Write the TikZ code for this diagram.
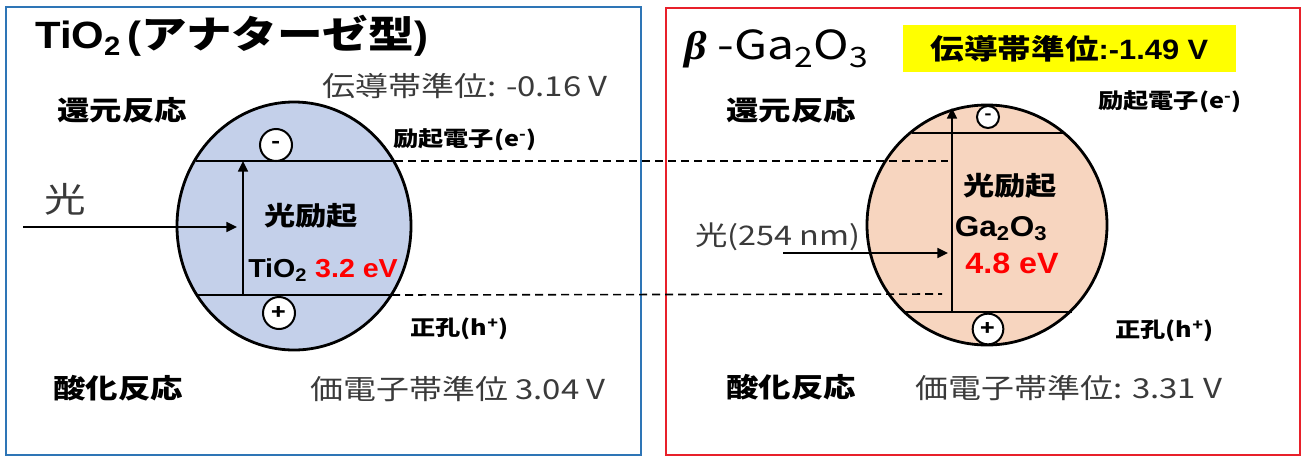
\documentclass[tikz,border=0pt]{standalone}
\usepackage{fontspec}
\setmainfont{Noto Sans CJK JP}[FakeStretch=1.2]
\newfontfamily\grk{Liberation Serif}[FakeStretch=1.1]
\newfontfamily\lat{Liberation Sans}[FakeStretch=1.1]
\usetikzlibrary{shapes.geometric,arrows.meta}
\definecolor{boxblue}{HTML}{2E75B6}
\definecolor{boxred}{HTML}{E8202A}
\definecolor{fillblue}{HTML}{C4D0EA}
\definecolor{fillpeach}{HTML}{F7D5BF}
\definecolor{textgray}{HTML}{3A3A3A}
\definecolor{hlyellow}{HTML}{FFFF00}
\definecolor{evred}{HTML}{FF0000}
\tikzset{
  lbl/.style={inner sep=0pt, anchor=base west},
  lblc/.style={inner sep=0pt, anchor=base},
  titlefont/.style={font=\bfseries\fontsize{28.5}{32}\selectfont},
  levelfont/.style={font=\fontsize{20.6}{24}\selectfont, text=textgray},
  reactfont/.style={font=\bfseries\fontsize{20.25}{24}\selectfont},
  carrierfont/.style={font=\bfseries\fontsize{15.75}{18}\selectfont},
  innerfont/.style={font=\bfseries\fontsize{19.5}{22}\selectfont},
  bandellipse/.style={ellipse, draw, line width=2.1pt, inner sep=0pt},
  bandline/.style={line width=1.6pt},
  bridge/.style={line width=1.2pt, dash pattern=on 6pt off 3.75pt},
  excite/.style={line width=1.2pt, -{Triangle[length=8pt,width=7.5pt]}},
  chargebox/.style={circle, draw, fill=white, line width=1.5pt, inner sep=0pt,
     font=\bfseries\fontsize{15}{15}\selectfont},
}
\begin{document}
\begin{tikzpicture}[x=0.75pt,y=-0.75pt]
\useasboundingbox (0,0) rectangle (1306,457);
% frames
\draw[boxblue, line width=2.2pt] (6,7) rectangle (641,455);
\draw[boxred, line width=2.2pt] (666,8) rectangle (1300,455);

% ---------------- left: TiO2 ----------------
\node[bandellipse, fill=fillblue, minimum width=175.5pt, minimum height=186pt] (eL) at (294,226) {};
\coordinate (LtA) at (196,161);
\coordinate (LtB) at (395,161);
\coordinate (LbA) at (196,295);
\coordinate (LbB) at (392,295);
\draw[bandline] (LtA) -- (LtB);
\draw[bandline] (LbA) -- (LbB);
\coordinate (LvB) at (243,295);
\coordinate (LvT) at (243,161);
\draw[excite] (LvB) -- (LvT);
\coordinate (LlightS) at (23,227);
\coordinate (LlightE) at (237,227);
\draw[excite] (LlightS) -- (LlightE);
\node[chargebox, minimum size=24pt] (eminusL) at (276,145) {-};
\node[chargebox, minimum size=24pt] (hplusL) at (279,313) {+};

\node[lbl, titlefont] (titleL) at (35,48) {{\lat TiO\textsubscript{2}\,(}アナターゼ型{\lat )}};
\node[lbl, levelfont] (cbL) at (322,96) {伝導帯準位: -0.16 V};
\node[lbl, reactfont] (redL) at (57,120) {還元反応};
\node[lbl, carrierfont] (elecL) at (393,146) {励起電子(e\textsuperscript{-})};
\node[lbl, font=\fontsize{26}{28}\selectfont, text=textgray] (lightL) at (44,212) {光};
\node[lblc, innerfont] (excL) at (311,225) {光励起};
\node[lbl, font=\bfseries\fontsize{19.5}{22}\selectfont\lat] (gapL) at (248,277) {TiO\textsubscript{2} \textcolor{evred}{3.2 eV}};
\node[lbl, carrierfont] (holeL) at (410,335) {正孔(h\textsuperscript{+})};
\node[lbl, reactfont] (oxL) at (53,398) {酸化反応};
\node[lbl, levelfont] (vbL) at (310,399) {価電子帯準位 3.04 V};

% ---------------- right: Ga2O3 ----------------
\node[bandellipse, fill=fillpeach, minimum width=180pt, minimum height=180pt] (eR) at (987,225) {};
\coordinate (RtA) at (912,133);
\coordinate (RtB) at (1063,133);
\coordinate (RbA) at (903,312);
\coordinate (RbB) at (1072,312);
\draw[bandline] (RtA) -- (RtB);
\draw[bandline] (RbA) -- (RbB);
\coordinate (RvB) at (952,312);
\coordinate (RvT) at (952,108);
\draw[excite] (RvB) -- (RvT);
\coordinate (RlightS) at (783,253);
\coordinate (RlightE) at (948,253);
\draw[excite] (RlightS) -- (RlightE);
\node[chargebox, minimum size=16.5pt, font=\bfseries\fontsize{12}{12}\selectfont] (eminusR) at (988,117) {-};
\node[chargebox, minimum size=23pt] (hplusR) at (988,329) {+};

% dashed bridges between the two band diagrams
\coordinate (DtE) at (948,161);
\coordinate (DbE) at (942,294);
\draw[bridge] (LtB) -- (DtE);
\draw[bridge] (LbB) -- (DbE);

\node[lbl, font=\fontsize{30}{34}\selectfont] (titleR) at (684,59)
  {{\grk\bfseries\itshape β} -Ga\textsubscript{2}O\textsubscript{3}};
\node[fill=hlyellow, minimum width=249.75pt, minimum height=35.25pt, inner sep=0pt,
      font=\bfseries\fontsize{21}{24}\selectfont] (cbR) at (1069.5,48.5) {伝導帯準位{\lat :-1.49 V}};
\node[lbl, reactfont] (redR) at (726,120) {還元反応};
\node[lbl, carrierfont] (elecR) at (1098,108) {励起電子(e\textsuperscript{-})};
\node[lblc, innerfont] (excR) at (1010,195) {光励起};
\node[lblc, font=\bfseries\fontsize{21.5}{24}\selectfont\lat] (matR) at (1001,236) {Ga\textsubscript{2}O\textsubscript{3}};
\node[lblc, font=\bfseries\fontsize{22}{24}\selectfont\lat, text=evred] (gapR) at (1012,273) {4.8 eV};
\node[lbl, font=\fontsize{20.25}{24}\selectfont, text=textgray] (lightR) at (695,245) {光(254 nm)};
\node[lbl, carrierfont] (holeR) at (1115,337) {正孔(h\textsuperscript{+})};
\node[lbl, reactfont] (oxR) at (726,397) {酸化反応};
\node[lbl, levelfont] (vbR) at (915,398) {価電子帯準位: 3.31 V};
\end{tikzpicture}
\end{document}
